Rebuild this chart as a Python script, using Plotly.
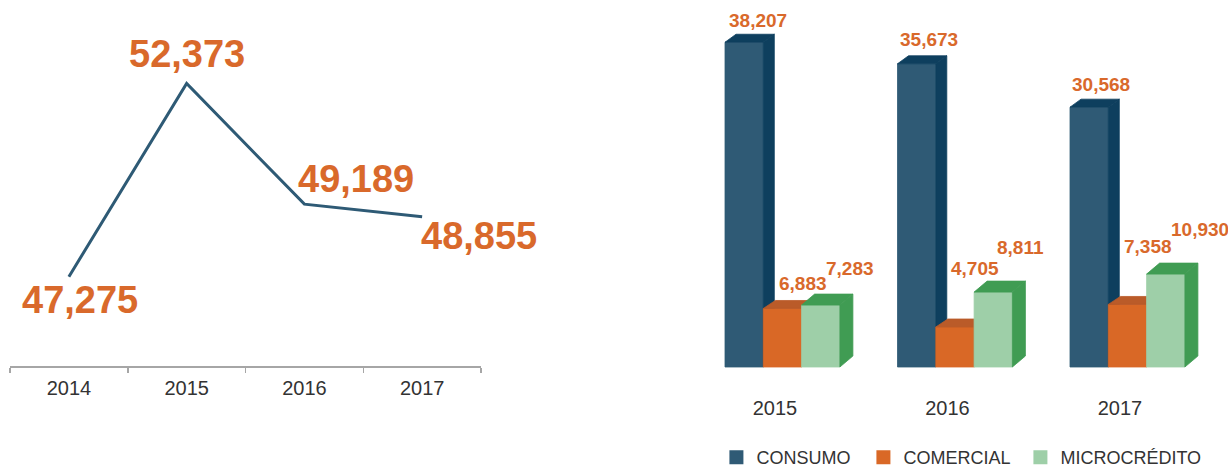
import plotly.graph_objects as go

# ---------------- data ----------------
line_years = ["2014", "2015", "2016", "2017"]
line_values = [47275, 52373, 49189, 48855]

bar_years = ["2015", "2016", "2017"]
series_names = ["CONSUMO", "COMERCIAL", "MICROCRÉDITO"]
consumo = [38207, 35673, 30568]
comercial = [6883, 4705, 7358]
microcredito = [7283, 8811, 10930]

# ---------------- style ----------------
W = 1228
FIG_H = 480          # a little taller than the 468 window so the legend box is not clamped
FONT = "Liberation Sans, Arial, sans-serif"
ORANGE = "#D9692B"
TEXT = "#333333"
LINE_COLOR = "#2E5A75"
AXIS_GRAY = "#A6A6A6"

front_colors = ["#2F5A75", "#D96826", "#9ECFA8"]
top_colors = ["#0E3F5E", "#BA5B29", "#409C53"]
side_colors = ["#0E3F5E", "#BA5B29", "#409C53"]
depth_px = [(11, 8), (12, 8), (13, 11)]          # 3D depth (dx, dy) in px per series
legend_item_width = [102, 112, None]             # legend text slot widths (px)

# left line-chart label offsets (xshift, yshift) in px
line_label_shift = [(11, -23), (0, 29), (52, 25), (57, -19)]
# right bar-chart label offsets (xshift, yshift) per series, per year
bar_label_shift = [
    [(2, 22), (0, 24), (0, 23)],
    [(14, 25), (13, 59), (14, 58)],
    [(22, 37), (21, 45), (22, 45)],
]

# geometry of subplots (page pixels from top-left)
L_X0, L_X1 = 10, 481
L_BASE = 366
L_PX_PER_UNIT = 0.0379
L_VAL_AT_BASE = 44919

R_CAT0_PX, R_CAT_STEP = 775, 172.5
R_BASE = 367
R_DOM_BOTTOM = 394
R_PX_PER_UNIT = 0.0085
BAR_W_PX = 38.3
BAR_START_PX = -50

LEGEND_BOTTOM_PX = 476      # legend box bottom

fig = go.Figure()

# ---------------- left: line chart ----------------
fig.add_trace(go.Scatter(
    x=line_years, y=line_values, mode="lines",
    line=dict(color=LINE_COLOR, width=3),
    showlegend=False, hoverinfo="skip", xaxis="x", yaxis="y",
))
for i, v in enumerate(line_values):
    dx, dy = line_label_shift[i]
    fig.add_annotation(
        x=i, y=v, xref="x", yref="y", text=f"{v:,}", showarrow=False,
        xanchor="center", yanchor="middle", xshift=dx, yshift=dy,
        font=dict(family=FONT, size=38, color=ORANGE, weight="bold"),
    )

# ---------------- right: 3D clustered columns ----------------
series_values = [consumo, comercial, microcredito]
bw = BAR_W_PX / R_CAT_STEP
b0 = BAR_START_PX / R_CAT_STEP

for i in range(len(bar_years)):
    for j, vals in enumerate(series_values):
        v = vals[i]
        xl = i + b0 + j * bw
        xr = xl + bw
        ddx = depth_px[j][0] / R_CAT_STEP
        ddy = depth_px[j][1] / R_PX_PER_UNIT
        faces = [
            ([xl, xr, xr, xl, xl], [0, 0, v, v, 0], front_colors[j]),
            ([xl, xr, xr + ddx, xl + ddx, xl], [v, v, v + ddy, v + ddy, v], top_colors[j]),
            ([xr, xr + ddx, xr + ddx, xr, xr], [0, ddy, v + ddy, v, 0], side_colors[j]),
        ]
        for fx, fy, col in faces:
            fig.add_trace(go.Scatter(
                x=fx, y=fy, mode="lines", fill="toself", fillcolor=col,
                line=dict(color=col, width=0.8), showlegend=False,
                hoverinfo="skip", xaxis="x2", yaxis="y2",
            ))
        sx, sy = bar_label_shift[j][i]
        fig.add_annotation(
            x=xl, y=v, xref="x2", yref="y2", text=f"{v:,}", showarrow=False,
            xanchor="left", yanchor="middle", xshift=sx, yshift=sy,
            font=dict(family=FONT, size=19, color=ORANGE, weight="bold"),
        )

# legend entries
for j, name in enumerate(series_names):
    kw = {}
    if legend_item_width[j]:
        kw["legendwidth"] = legend_item_width[j]
    fig.add_trace(go.Scatter(
        x=[None], y=[None], name=name, mode="markers",
        marker=dict(color=front_colors[j], symbol="square", size=14),
        xaxis="x2", yaxis="y2", showlegend=True, **kw,
    ))

# ---------------- axes ----------------
l_top_val = L_VAL_AT_BASE + L_BASE / L_PX_PER_UNIT
r_bottom_val = -(R_DOM_BOTTOM - R_BASE) / R_PX_PER_UNIT
r_top_val = R_BASE / R_PX_PER_UNIT

fig.update_layout(
    width=W, height=FIG_H, autosize=False,
    margin=dict(l=0, r=0, t=0, b=0),
    paper_bgcolor="white", plot_bgcolor="white",
    font=dict(family=FONT, color=TEXT),
    xaxis=dict(
        domain=[L_X0 / W, L_X1 / W], type="category", range=[-0.5, 3.5],
        showline=True, linecolor=AXIS_GRAY, linewidth=1.5,
        ticks="outside", tickson="boundaries", ticklen=5, tickcolor=AXIS_GRAY,
        tickwidth=1.5, showgrid=False, zeroline=False, ticklabelstandoff=3,
        tickfont=dict(family=FONT, size=20, color=TEXT), fixedrange=True,
    ),
    yaxis=dict(
        domain=[(FIG_H - L_BASE) / FIG_H, 1], range=[L_VAL_AT_BASE, l_top_val],
        visible=False, fixedrange=True,
    ),
    xaxis2=dict(
        domain=[(R_CAT0_PX - 0.5 * R_CAT_STEP) / W, (R_CAT0_PX + 2.5 * R_CAT_STEP) / W],
        range=[-0.5, 2.5], tickmode="array",
        tickvals=list(range(len(bar_years))), ticktext=bar_years,
        showline=False, showgrid=False, zeroline=False, ticks="",
        tickfont=dict(family=FONT, size=20, color=TEXT), fixedrange=True,
        anchor="y2",
    ),
    yaxis2=dict(
        domain=[(FIG_H - R_DOM_BOTTOM) / FIG_H, 1], range=[r_bottom_val, r_top_val],
        visible=False, fixedrange=True, anchor="x2",
    ),
    legend=dict(
        orientation="h", x=0.5834, y=(FIG_H - LEGEND_BOTTOM_PX) / FIG_H,
        xanchor="left", yanchor="bottom",
        font=dict(family=FONT, size=18, color=TEXT), bgcolor="rgba(0,0,0,0)",
        itemclick=False, itemdoubleclick=False,
    ),
    showlegend=True,
)

fig.write_html("out.html", config={"displayModeBar": False, "staticPlot": True})

# remove the browser's default page margin so the figure sits at (0, 0)
with open("out.html", encoding="utf-8") as f:
    html = f.read()
html = html.replace("<head>", "<head><style>html,body{margin:0;padding:0;overflow:hidden;}</style>", 1)
with open("out.html", "w", encoding="utf-8") as f:
    f.write(html)
